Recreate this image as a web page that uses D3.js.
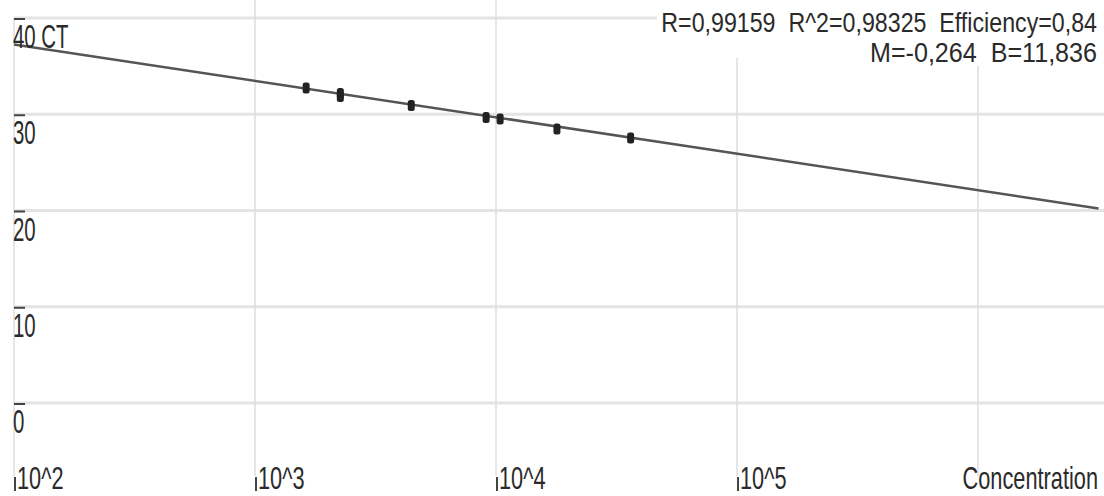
<!DOCTYPE html>
<html>
<head>
<meta charset="utf-8">
<script src="https://cdn.jsdelivr.net/npm/d3@7"></script>
<style>
  body { margin: 0; background: #fff; }
  text { font-family: "Liberation Sans", Arial, sans-serif; fill: #2a2a2a; }
</style>
</head>
<body>
<svg id="chart"></svg>
<script>
// standard curve data
const concentration = [1630, 2260, 2260, 4450, 9100, 10400, 17900, 36200];
const ctValues      = [32.73, 32.16, 31.84, 30.91, 29.66, 29.5, 28.47, 27.53];
const yTicks        = [0, 10, 20, 30, 40];
const yTickLabels   = ['0', '10', '20', '30', '40 CT'];
const xTicks        = [1e2, 1e3, 1e4, 1e5, 1e6];
const xTickLabels   = ['10^2', '10^3', '10^4', '10^5', ''];
const fitM = -0.264, fitB = 11.836;
const statsLines = ['R=0,99159  R^2=0,98325  Efficiency=0,84', 'M=-0,264  B=11,836'];

function drawCurve(width, height) {
  const svg = d3.select('#chart')
                .attr('width', width)
                .attr('height', height);

  const x = d3.scaleLog()
              .domain([1e2, Math.pow(10, 6.5)])
              .range([14, 1098.5]),
        y = d3.scaleLinear()
              .domain([0, 40])
              .range([403, 18]);

  // horizontal grid
  svg.append('g')
    .selectAll('line')
    .data(yTicks)
    .enter()
    .append('line')
    .attr('x1', 14)
    .attr('x2', width)
    .attr('y1', d => y(d))
    .attr('y2', d => y(d))
    .attr('stroke', '#e4e4e4')
    .attr('stroke-width', 3);

  // vertical grid
  svg.append('g')
    .selectAll('line')
    .data(xTicks)
    .enter()
    .append('line')
    .attr('x1', d => x(d))
    .attr('x2', d => x(d))
    .attr('y1', d => d === 1e2 ? 18 : 0)
    .attr('y2', 476)
    .attr('stroke', '#dedede')
    .attr('stroke-width', 1.5);

  // regression line: log10(conc) = M * CT + B
  const ctAt = c => (Math.log10(c) - fitB) / fitM;
  const ends = x.domain();
  svg.append('line')
    .attr('x1', x(ends[0]))
    .attr('y1', y(ctAt(ends[0])))
    .attr('x2', x(ends[1]))
    .attr('y2', y(ctAt(ends[1])))
    .attr('stroke', '#555')
    .attr('stroke-width', 2.5);

  // samples
  svg.append('g')
    .selectAll('rect')
    .data(concentration.map((c, i) => ({c: c, ct: ctValues[i]})))
    .enter()
    .append('rect')
    .attr('x', d => x(d.c) - 3.5)
    .attr('y', d => y(d.ct) - 5.5)
    .attr('width', 7)
    .attr('height', 11)
    .attr('rx', 2.5)
    .attr('fill', '#222');

  // y labels with small tick bar
  const yl = svg.append('g');
  yl.selectAll('line')
    .data(yTicks)
    .enter()
    .append('line')
    .attr('x1', 14)
    .attr('x2', 25)
    .attr('y1', d => y(d) + 1)
    .attr('y2', d => y(d) + 1)
    .attr('stroke', '#444')
    .attr('stroke-width', 2);
  yl.selectAll('text')
    .data(yTicks)
    .enter()
    .append('text')
    .attr('transform', d => `translate(13, ${y(d) + 30}) scale(0.6, 1)`)
    .attr('font-size', '34px')
    .text((d, i) => yTickLabels[i]);

  // x labels with small tick
  const xl = svg.append('g');
  xl.selectAll('line')
    .data(xTicks.filter((d, i) => xTickLabels[i]))
    .enter()
    .append('line')
    .attr('x1', d => x(d) + 1)
    .attr('x2', d => x(d) + 1)
    .attr('y1', 477)
    .attr('y2', 491)
    .attr('stroke', '#444')
    .attr('stroke-width', 2);
  xl.selectAll('text')
    .data(xTicks.filter((d, i) => xTickLabels[i]))
    .enter()
    .append('text')
    .attr('transform', d => `translate(${x(d) + 3}, 489) scale(0.68, 1)`)
    .attr('font-size', '32px')
    .text((d, i) => xTickLabels[i]);

  svg.append('text')
    .attr('transform', 'translate(1098, 489) scale(0.68, 1)')
    .attr('font-size', '32px')
    .style('text-anchor', 'end')
    .text('Concentration');

  // fit statistics box
  svg.append('rect')
    .attr('x', 657)
    .attr('y', 0)
    .attr('width', width - 657)
    .attr('height', 58)
    .attr('fill', '#fff');
  svg.append('rect')
    .attr('x', 862)
    .attr('y', 0)
    .attr('width', width - 862)
    .attr('height', 66)
    .attr('fill', '#fff');
  const statsScale = [0.86, 0.93];
  svg.append('g')
    .selectAll('text')
    .data(statsLines)
    .enter()
    .append('text')
    .attr('transform', (d, i) => `translate(1097, ${32 + i * 30}) scale(${statsScale[i]}, 1)`)
    .attr('font-size', '27px')
    .style('text-anchor', 'end')
    .style('white-space', 'pre')
    .text(d => d);
}

drawCurve(1104, 496);
</script>
</body>
</html>
